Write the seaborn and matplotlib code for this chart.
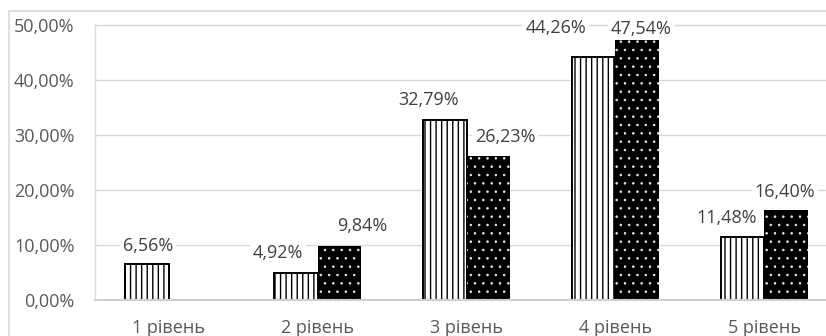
import matplotlib
matplotlib.use("Agg")
import numpy as np
import pandas as pd
import matplotlib.pyplot as plt
from matplotlib.patches import Rectangle
from matplotlib.ticker import FuncFormatter, FixedLocator
import seaborn as sns

# Share of respondents per level, two groups
levels = ["1 рівень", "2 рівень", "3 рівень", "4 рівень", "5 рівень"]
series_names = ["s1", "s2"]
values_s1 = [6.56, 4.92, 32.79, 44.26, 11.48]
values_s2 = [0.0, 9.84, 26.23, 47.54, 16.40]
y_ticks = [0, 10, 20, 30, 40, 50]

# label nudges (pixels) relative to each bar's top centre
label_nudge_s1 = [(1, 18), (-18, 20), (-16, 20), (-38, 29), (-16, 19)]
label_nudge_s2 = [None, (23, 20), (17, 19), (4, 10), (-1, 18)]

df = pd.DataFrame({
    "level": levels * 2,
    "value": values_s1 + values_s2,
    "series": [series_names[0]] * len(levels) + [series_names[1]] * len(levels),
})

sns.set_theme(style="white")
plt.rcParams["font.family"] = ["Open Sans", "DejaVu Sans"]
plt.rcParams["hatch.linewidth"] = 1.0

W, H = 826, 336
fig = plt.figure(figsize=(W / 100, H / 100), dpi=100)
ax_left, ax_right, ax_bottom, ax_top = 94.5, 838.5, 300, 25
ax = fig.add_axes([ax_left / W, (H - ax_bottom) / H,
                   (ax_right - ax_left) / W, (ax_bottom - ax_top) / H])

sns.barplot(data=df, x="level", y="value", hue="series", order=levels,
            hue_order=series_names, width=0.585, ax=ax, legend=False,
            err_kws={"linewidth": 0})

text_color = "#404040"
tick_color = "#595959"
grid_color = "#d9d9d9"

nudges = [label_nudge_s1, label_nudge_s2]
vals = [values_s1, values_s2]
for i, cont in enumerate(ax.containers):
    for j, bar in enumerate(cont):
        if i == 0:
            bar.set_facecolor("white")
            bar.set_edgecolor("black")
            bar.set_linewidth(1.4)
            bar.set_hatch("|||")
        else:
            bar.set_facecolor("black")
            bar.set_edgecolor("#e8e8e8")
            bar.set_linewidth(0)
            bar.set_hatch("..")
            if hasattr(bar, "set_hatch_linewidth"):
                bar.set_hatch_linewidth(0.6)
        v = vals[i][j]
        nd = nudges[i][j]
        if v <= 0 or nd is None:
            continue
        cx = bar.get_x() + bar.get_width() / 2
        ax.annotate(f"{v:.2f}%".replace(".", ","), xy=(cx, bar.get_height()),
                    xytext=nd, textcoords="offset pixels",
                    ha="center", va="center", fontsize=13, color=text_color,
                    annotation_clip=False, zorder=5,
                    bbox=dict(boxstyle="square,pad=0.15", fc="white", ec="none"))

ax.set_ylim(0, 50)
ax.set_xlim(-0.5, len(levels) - 0.5)
ax.yaxis.set_major_locator(FixedLocator(y_ticks))
ax.yaxis.set_major_formatter(FuncFormatter(lambda v, p: f"{v:.2f}%".replace(".", ",")))
ax.set_xlabel("")
ax.set_ylabel("")
ax.yaxis.grid(True, color=grid_color, linewidth=1)
ax.set_axisbelow(True)
ax.tick_params(axis="y", length=0, pad=14.4, labelsize=13, labelcolor=tick_color)
ax.tick_params(axis="x", length=0, pad=13.5, labelsize=13, labelcolor=tick_color)
for name, sp in ax.spines.items():
    sp.set_visible(True)
    sp.set_color(grid_color)
    sp.set_linewidth(1)
ax.spines["bottom"].set_color("#cfcfcf")
ax.spines["bottom"].set_linewidth(1.5)

# outer chart frame
fig.add_artist(Rectangle((8.5 / W, -0.1), 2.0, (H - 10.5) / H + 0.1,
                         transform=fig.transFigure, fill=False,
                         edgecolor=grid_color, linewidth=1.2))

fig.savefig("out.png", dpi=100)
